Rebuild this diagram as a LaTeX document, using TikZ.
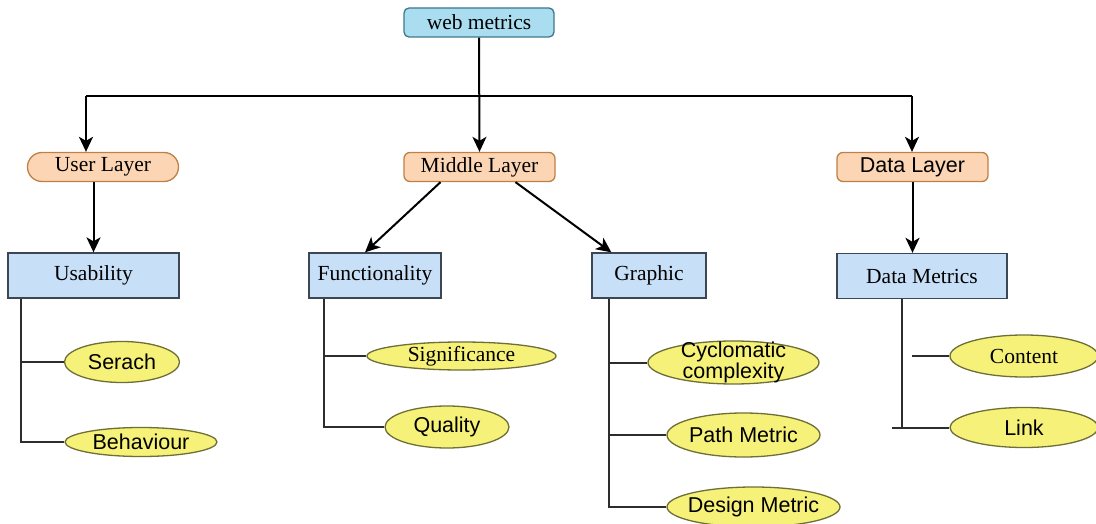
\documentclass[tikz,border=0pt]{standalone}
\usepackage{fontspec}
\setmainfont{Liberation Serif}
\setsansfont{Liberation Sans}
\usetikzlibrary{shapes.geometric,shapes.misc,arrows.meta,calc}
\definecolor{topfill}{RGB}{170,221,240}
\definecolor{topdraw}{RGB}{60,120,140}
\definecolor{layfill}{RGB}{252,214,180}
\definecolor{laydraw}{RGB}{190,128,70}
\definecolor{boxfill}{RGB}{200,224,247}
\definecolor{boxdraw}{RGB}{60,70,85}
\definecolor{leaffill}{RGB}{246,241,120}
\definecolor{leafdraw}{RGB}{110,110,55}
\definecolor{treeline}{RGB}{45,45,45}
\begin{document}
\begin{tikzpicture}[x=1pt,y=-1pt,
  serif/.style={font=\fontsize{21.5}{22}\selectfont\rmfamily},
  sans/.style={font=\fontsize{21.5}{21}\selectfont\sffamily},
  topbox/.style={draw=topdraw,fill=topfill,line width=1.3pt,rounded corners=5pt,
    minimum width=150pt,minimum height=29pt,inner sep=0pt,serif},
  pill/.style={draw=laydraw,fill=layfill,line width=1.3pt,rounded rectangle,
    minimum width=151pt,minimum height=29pt,inner sep=0pt,serif},
  laybox/.style={draw=laydraw,fill=layfill,line width=1.3pt,rounded corners=6pt,
    minimum width=151pt,minimum height=29pt,inner sep=0pt},
  metricbox/.style={draw=boxdraw,fill=boxfill,line width=1.3pt,
    minimum height=45pt,inner sep=0pt,serif},
  leaf/.style={draw=leafdraw,fill=leaffill,line width=1.3pt,ellipse,inner sep=0pt},
  arr/.style={line width=2pt,-{Stealth[length=15pt,width=14pt,inset=4pt]}},
  tree/.style={line width=2pt,treeline}
]
\useasboundingbox (0,0) rectangle (1096,524);

% top
\node[topbox] (web) at (479,22.5) {web metrics};
% layers
\node[pill] (user) at (103,167) {User Layer};
\node[laybox,serif] (mid) at (479.5,167) {Middle Layer};
\node[laybox,sans] (dl) at (912.5,167) {Data Layer};
% metric boxes
\node[metricbox,minimum width=171pt] (usab) at (93.5,275.5) {Usability};
\node[metricbox,minimum width=132pt] (func) at (375,275.5) {Functionality};
\node[metricbox,minimum width=114pt] (graph) at (649,275.5) {Graphic};
\node[metricbox,minimum width=170pt] (dm) at (922,276) {Data Metrics};

% leaves
\node[leaf,minimum width=115pt,minimum height=41pt,label={[sans]center:Serach}] (serach) at (122,362) {};
\node[leaf,minimum width=152pt,minimum height=29pt,label={[sans]center:Behaviour}] (behav) at (141,442) {};
\node[leaf,minimum width=189pt,minimum height=28pt,label={[serif]center:Significance}] (signif) at (461.5,356) {};
\node[leaf,minimum width=124pt,minimum height=42pt,label={[sans]center:Quality}] (qual) at (447,427) {};
\node[leaf,minimum width=171pt,minimum height=43pt,label={[sans,align=center]center:Cyclomatic\\complexity}] (cyc) at (733.5,362.5) {};
\node[leaf,minimum width=153pt,minimum height=44pt,label={[sans]center:Path Metric}] (path) at (743.5,435) {};
\node[leaf,minimum width=173pt,minimum height=40pt,label={[sans]center:Design Metric}] (design) at (753.5,507) {};
\node[leaf,minimum width=148pt,minimum height=42pt,label={[serif]center:Content}] (content) at (1024,356) {};
\node[leaf,minimum width=148pt,minimum height=40pt,label={[sans]center:Link}] (link) at (1024,427.5) {};

% top connectors
\coordinate (hub) at (479,96);
\coordinate (cL) at (86,96);
\coordinate (cR) at (912,96);
\draw[arr] (web.south) -- (mid.north);
\draw[line width=2pt] (cL) -- (cR);
\draw[arr] (cL) -- (cL |- user.north);
\draw[arr] (cR) -- (cR |- dl.north);
% layer to metrics
\draw[arr] (usab.north |- user.south) -- (usab.north);
\draw[arr] ($(mid.south)+(-39,0)$) -- ($(func.north)+(-10,0)$);
\draw[arr] ($(mid.south)+(36,0)$) -- ($(graph.north west)+(20,0)$);
\draw[arr] (dl.south) -- (dl.south |- dm.north);

% trees
\coordinate (tu) at ($(usab.south west)+(14,0)$);
\draw[tree] (tu) |- (behav.west);
\draw[tree] (tu |- serach.west) -- (serach.west);
\coordinate (tf) at ($(func.south west)+(16,0)$);
\draw[tree] (tf) |- (qual.west);
\draw[tree] (tf |- signif.west) -- (signif.west);
\coordinate (tg) at ($(graph.south west)+(18,0)$);
\draw[tree] (tg) |- (design.west);
\draw[tree] (tg |- cyc.west) -- (cyc.west);
\draw[tree] (tg |- path.west) -- (path.west);
\coordinate (td) at ($(dm.south west)+(66,0)$);
\draw[tree] (td) -- (td |- link.west);
\draw[tree] ($(td |- link.west)+(-10,0)$) -- (link.west);
\draw[tree] ($(td |- content.west)+(10,0)$) -- (content.west);
\end{tikzpicture}
\end{document}
